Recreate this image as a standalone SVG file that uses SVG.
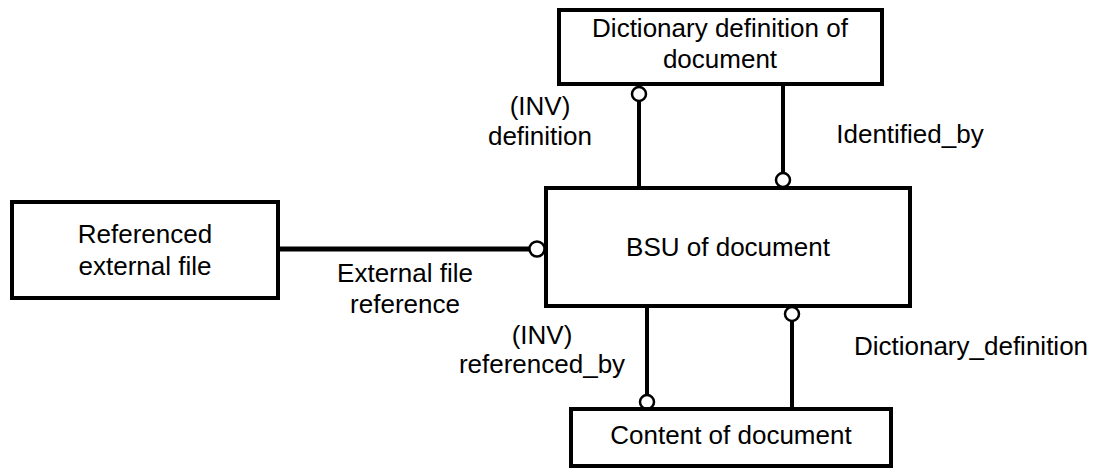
<svg xmlns="http://www.w3.org/2000/svg" width="1096" height="468" viewBox="0 0 1096 468">
<style>
.box{fill:#fff;stroke:#000;stroke-width:4}
.t{font-family:"Liberation Sans",Arial,sans-serif;font-size:26px;fill:#000;text-anchor:middle}
.c{stroke:#000;stroke-width:4;fill:none}
.h{stroke:#000;stroke-width:5;fill:none}
.o{fill:#fff;stroke:#000;stroke-width:2.5}
</style>
<rect width="1096" height="468" fill="#fff"/>
<g id="connectors">
<line class="c" x1="639" y1="100" x2="639" y2="188"/>
<circle class="o" cx="639" cy="94" r="7"/>
<line class="c" x1="783" y1="84" x2="783" y2="174"/>
<circle class="o" cx="783" cy="180" r="7"/>
<line class="h" x1="278" y1="249" x2="529" y2="249"/>
<circle class="o" cx="537" cy="249" r="7.5"/>
<line class="c" x1="647" y1="306" x2="647" y2="396"/>
<circle class="o" cx="647" cy="402" r="7"/>
<line class="c" x1="792" y1="320" x2="792" y2="409"/>
<circle class="o" cx="792" cy="314" r="7"/>
<text class="t" x="540" y="115">(INV)</text>
<text class="t" x="540" y="145">definition</text>
<text class="t" x="910" y="143">Identified_by</text>
<text class="t" x="405" y="282">External file</text>
<text class="t" x="405" y="313">reference</text>
<text class="t" x="542" y="344">(INV)</text>
<text class="t" x="542" y="373">referenced_by</text>
<text class="t" x="971" y="355">Dictionary_definition</text>
</g>
<g id="dict">
<rect class="box" x="559" y="10" width="323" height="74"/>
<text class="t" x="720" y="37">Dictionary definition of</text>
<text class="t" x="720" y="68">document</text>
</g>
<g id="bsu">
<rect class="box" x="546" y="188" width="364" height="118"/>
<text class="t" x="728" y="256">BSU of document</text>
</g>
<g id="ref">
<rect class="box" x="12" y="202" width="266" height="96"/>
<text class="t" x="145" y="243">Referenced</text>
<text class="t" x="145" y="275">external file</text>
</g>
<g id="content">
<rect class="box" x="571" y="409" width="320" height="57"/>
<text class="t" x="731" y="444">Content of document</text>
</g>
</svg>
